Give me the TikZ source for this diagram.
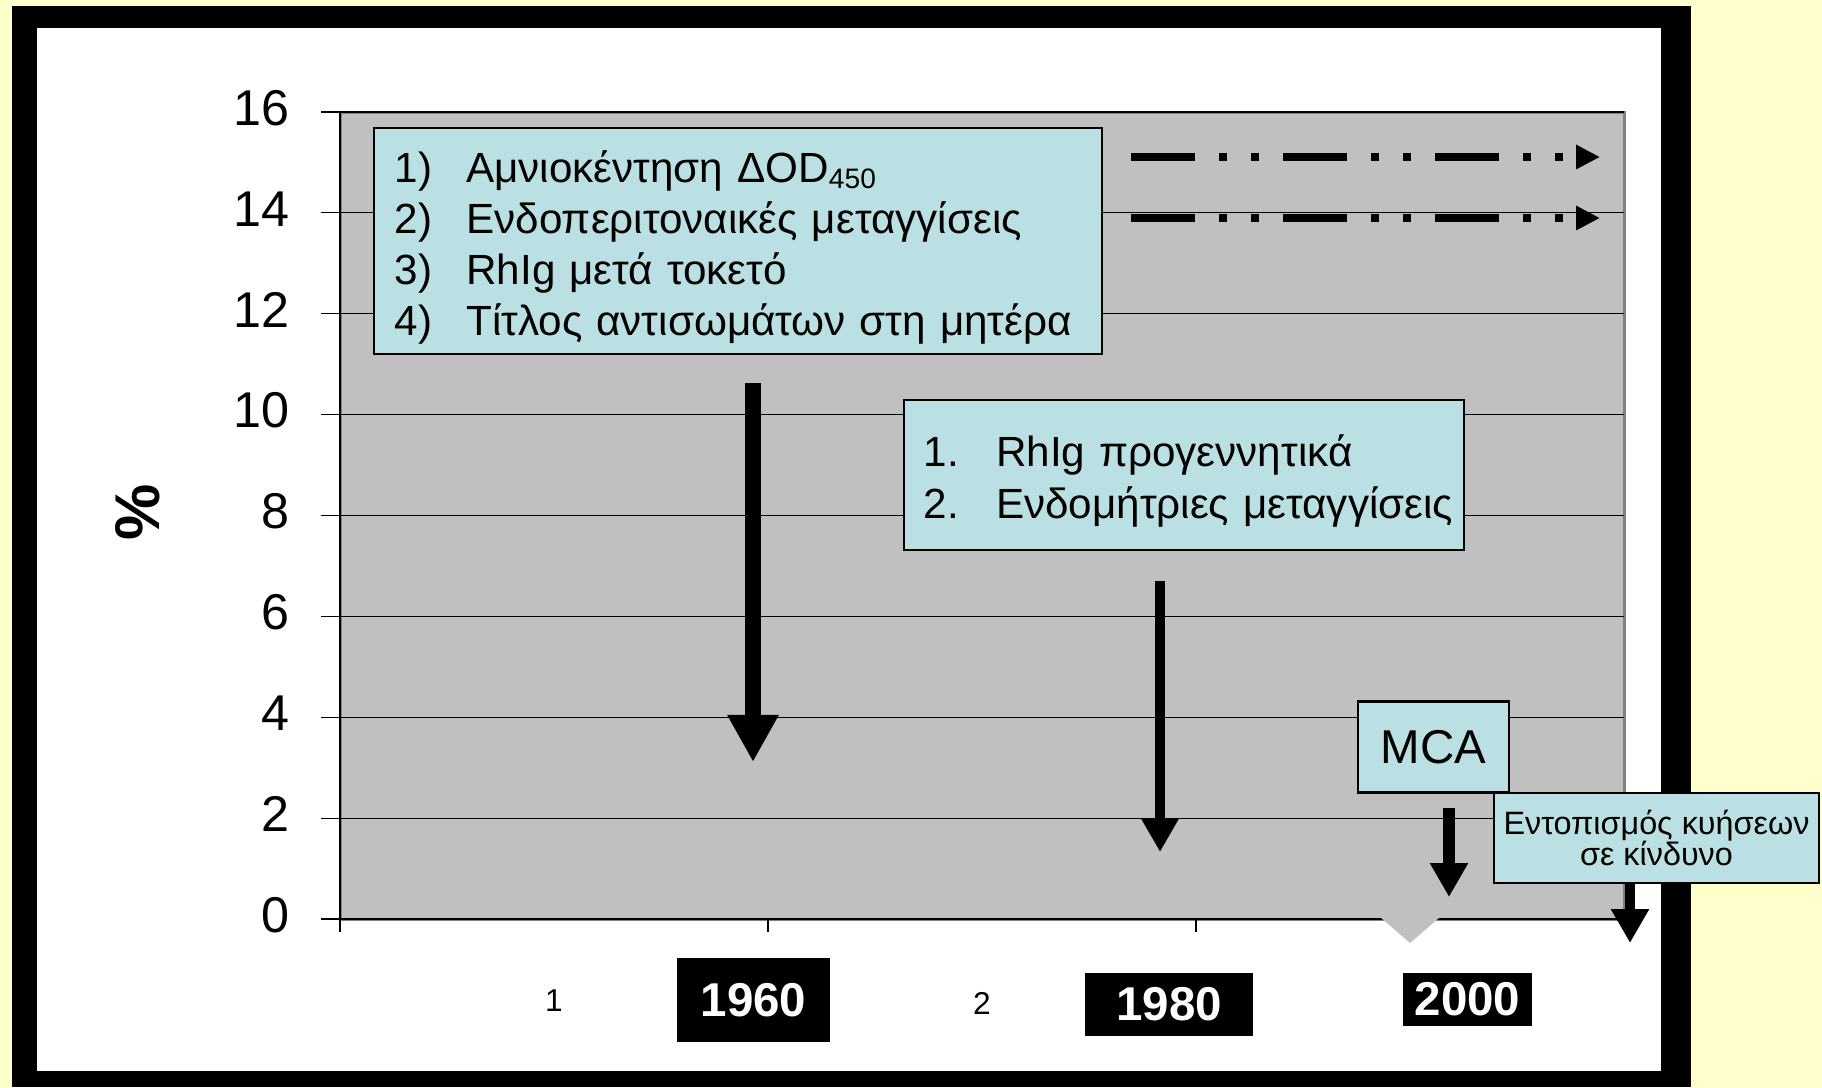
\documentclass[tikz,border=0pt]{standalone}
\usepackage{fontspec}
\setmainfont{Liberation Sans}
\usetikzlibrary{positioning,arrows.meta}
\definecolor{paleyellow}{RGB}{255,255,204}
\definecolor{plotgray}{RGB}{192,192,192}
\definecolor{framegray}{RGB}{128,128,128}
\definecolor{paleblue}{RGB}{187,224,227}

\begin{document}
\begin{tikzpicture}[
x=0.01cm,y=-0.01cm,
box/.style={draw,fill=paleblue,line width=0.6pt,inner sep=0pt,align=center},
yearbox/.style={fill=black,text=white,inner sep=0pt,font=\fontsize{13.5}{16}\selectfont\bfseries},
ylab/.style={anchor=east,inner sep=0pt,font=\fontsize{14.3}{16}\selectfont},
gridline/.style={line width=0.35pt},
fat/.style={line width=0.16cm,-{Triangle[width=0.48cm,length=0.47cm]}},
downarr/.style={line width=#1,-{Triangle[width=0.36cm,length=0.34cm]}},
dashdot/.style={line width=0.075cm,dash pattern=on 0.64cm off 0.24cm on 0.08cm off 0.24cm on 0.08cm off 0.24cm,-{Triangle[width=0.23cm,length=0.24cm]}}
]
\useasboundingbox (0,0) rectangle (1822,1087);
\fill[paleyellow] (0,0) rectangle (1822,1087);
\fill[black] (12,6) rectangle (1691,1087);
\fill[white] (37,28) rectangle (1661,1071);

% plot area
\draw[fill=plotgray,draw=framegray,line width=0.03cm] (340,112) rectangle (1624,919);
\foreach \v in {0,2,...,16} {
  \draw[gridline] (321,{919-50.44*\v}) -- (1624,{919-50.44*\v});
  \node[ylab] (y\v) at (290,{915-50.44*\v}) {\v};
}
\draw[gridline] (340,112) -- (340,932);
\foreach \x in {768,1196} \draw[gridline] (\x,919) -- (\x,932);
\fill[plotgray] (1380,917) -- (1440,917) -- (1410,943) -- cycle;
\node[rotate=90,font=\fontsize{18}{20}\selectfont\bfseries] (pct) at (138,512) {\%};

\draw[dashdot] (1131,157) -- (1600,157);
\draw[dashdot] (1131,218) -- (1600,218);

\node[box,minimum width=7.28cm,minimum height=2.26cm,inner xsep=0.21cm,text width=6.86cm,align=left,font=\fontsize{12}{14.5}\selectfont] (steps) at (738,241) {%
\vspace*{0.12cm}
\begin{tabular}{@{}l@{\hspace{0.34cm}}l@{}}
1) & Αμνιοκέντηση ΔOD\textsubscript{450}\\
2) & Ενδοπεριτοναικές μεταγγίσεις\\
3) & RhIg μετά τοκετό\\
4) & Τίτλος αντισωμάτων στη μητέρα
\end{tabular}};
\node[box,minimum width=5.60cm,minimum height=1.50cm,inner xsep=0.2cm,text width=5.2cm,align=left,font=\fontsize{12}{14.8}\selectfont] (later) at (1184,475) {%
\vspace*{0.10cm}
\begin{tabular}{@{}l@{\hspace{0.37cm}}l@{}}
1. & RhIg προγεννητικά\\
2. & Ενδομήτριες μεταγγίσεις
\end{tabular}};
\node[box,minimum width=1.51cm,minimum height=0.91cm,font=\fontsize{13.5}{16}\selectfont] (mca) at (1433.5,747) {MCA};
\node[box,minimum width=3.25cm,minimum height=0.90cm,font=\fontsize{9.2}{9}\selectfont] (risk) at (1656.5,838) {Εντοπισμός κυήσεων\\σε κίνδυνο};

\node[yearbox,minimum width=1.53cm,minimum height=0.84cm] (y60) at (753.5,1000) {1960};
\node[yearbox,minimum width=1.68cm,minimum height=0.63cm] (y80) at (1169,1004.5) {1980};
\node[yearbox,minimum width=1.29cm,minimum height=0.53cm] (y00) at (1467.5,999.5) {2000};
\node[font=\fontsize{9}{10}\selectfont] (n1) at (554,1001) {1};
\node[font=\fontsize{9}{10}\selectfont] (n2) at (982,1003) {2};

\coordinate (a1s) at (753,383);
\coordinate (a1e) at (753,762);
\coordinate (a2s) at (1160,581);
\coordinate (a2e) at (1160,852);
\coordinate (a3s) at (1449,808);
\coordinate (a3e) at (1449,897);
\coordinate (a4e) at (1630,943);
\draw[fat] (a1s) -- (a1e);
\draw[downarr=0.10cm] (a2s) -- (a2e);
\draw[downarr=0.12cm] (a3s) -- (a3e);
\draw[downarr=0.10cm] (risk.south -| a4e) -- (a4e);
\end{tikzpicture}
\end{document}
